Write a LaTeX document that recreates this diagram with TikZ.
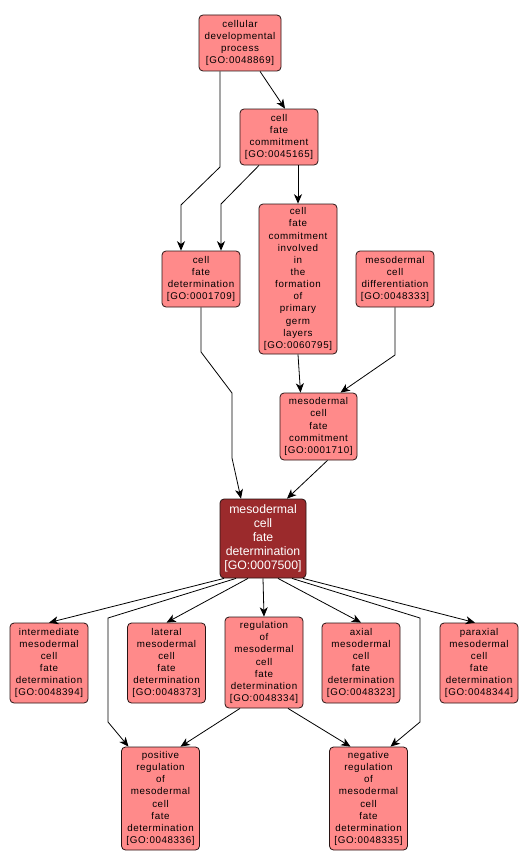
\documentclass[tikz,border=0pt]{standalone}
\usepackage{fontspec}
\setmainfont{Liberation Sans}
\newfontfamily\gofont[LetterSpace=6]{Liberation Sans}
\usetikzlibrary{arrows.meta}
\definecolor{gofill}{RGB}{255,138,138}
\definecolor{godark}{RGB}{155,42,44}
\definecolor{goline}{RGB}{40,20,20}
\tikzset{
  gobox/.style={draw=goline, fill=gofill, line width=0.6pt, rounded corners=3pt,
    align=center, inner sep=0pt, minimum width=58.5pt, minimum height=42pt,
    font=\gofont\fontsize{7.35}{9.1}\selectfont},
  gomain/.style={draw=goline, fill=godark, text=white, line width=0.6pt, rounded corners=3pt,
    align=center, inner sep=0pt, minimum width=64.5pt, minimum height=59.25pt,
    font=\fontsize{9.2}{10.6}\selectfont},
  arr/.style={draw=black, line width=0.6pt, -{Stealth[length=7pt,width=6pt,inset=2pt]}}
}
\begin{document}
\begin{tikzpicture}[x=0.75pt,y=-0.75pt]
\useasboundingbox (0,0) rectangle (528,867);
\fill[white] (0,0) rectangle (528,867);
\node[gobox, minimum width=61.5pt] (n1) at (240,43) {cellular\\developmental\\process\\{[GO:0048869]}};
\node[gobox] (n2) at (279,137) {cell\\fate\\commitment\\{[GO:0045165]}};
\node[gobox] (n3) at (201,279) {cell\\fate\\determination\\{[GO:0001709]}};
\node[gobox, minimum height=112.5pt] (n4) at (298,279) {cell\\fate\\commitment\\involved\\in\\the\\formation\\of\\primary\\germ\\layers\\{[GO:0060795]}};
\node[gobox] (n5) at (395,279) {mesodermal\\cell\\differentiation\\{[GO:0048333]}};
\node[gobox, minimum width=57.75pt, minimum height=50.25pt] (n6) at (318.5,426.5) {mesodermal\\cell\\fate\\commitment\\{[GO:0001710]}};
\node[gomain] (n7) at (263,538.5) {mesodermal\\cell\\fate\\determination\\{[GO:0007500]}};
\node[gobox, minimum height=60pt] (n8) at (49,663) {intermediate\\mesodermal\\cell\\fate\\determination\\{[GO:0048394]}};
\node[gobox, minimum height=60pt] (n9) at (166.5,663) {lateral\\mesodermal\\cell\\fate\\determination\\{[GO:0048373]}};
\node[gobox, minimum height=68.25pt] (n10) at (264,662.5) {regulation\\of\\mesodermal\\cell\\fate\\determination\\{[GO:0048334]}};
\node[gobox, minimum height=60pt] (n11) at (361,663) {axial\\mesodermal\\cell\\fate\\determination\\{[GO:0048323]}};
\node[gobox, minimum height=60pt] (n12) at (479,663) {paraxial\\mesodermal\\cell\\fate\\determination\\{[GO:0048344]}};
\node[gobox, minimum height=77.25pt] (n13) at (160.5,798.5) {positive\\regulation\\of\\mesodermal\\cell\\fate\\determination\\{[GO:0048336]}};
\node[gobox, minimum height=77.25pt] (n14) at (368.5,798.5) {negative\\regulation\\of\\mesodermal\\cell\\fate\\determination\\{[GO:0048335]}};
% edges
\draw[arr] ([xshift=15pt]n1.south) -- ([xshift=4.5pt]n2.north);
\draw[arr] ([xshift=-15pt]n1.south) -- (220,167) -- (181,205) -- ([xshift=-15pt]n3.north);
\draw[arr] ([xshift=-15pt]n2.south) -- (221,204) -- ([xshift=15pt]n3.north);
\draw[arr] (n2.south -| n4.north) -- (n4.north);
\draw[arr] (n4.south) -- ([xshift=-13.5pt]n6.north);
\draw[arr] (n5.south) -- (395,355) -- ([xshift=16.5pt]n6.north);
\draw[arr] (n3.south) -- (201,352) -- (232,393) -- (232,458) -- ([xshift=-16.5pt]n7.north);
\draw[arr] ([xshift=6.75pt]n6.south) -- ([xshift=18pt]n7.north);
\draw[arr] ([xshift=-29.25pt]n7.south) -- (n8.north);
\draw[arr] ([xshift=-20.25pt]n7.south) -- (108,618) -- (108,722) -- ([xshift=-24pt]n13.north);
\draw[arr] ([xshift=-11.25pt]n7.south) -- (n9.north);
\draw[arr] (n7.south) -- (n10.north);
\draw[arr] ([xshift=11.25pt]n7.south) -- (n11.north);
\draw[arr] ([xshift=21.75pt]n7.south) -- (420,618) -- (420,722) -- ([xshift=16.5pt]n14.north);
\draw[arr] ([xshift=30pt]n7.south) -- ([xshift=-3pt]n12.north);
\draw[arr] ([xshift=-18pt]n10.south) -- ([xshift=15pt]n13.north);
\draw[arr] ([xshift=18pt]n10.south) -- ([xshift=-13.5pt]n14.north);
\end{tikzpicture}
\end{document}
